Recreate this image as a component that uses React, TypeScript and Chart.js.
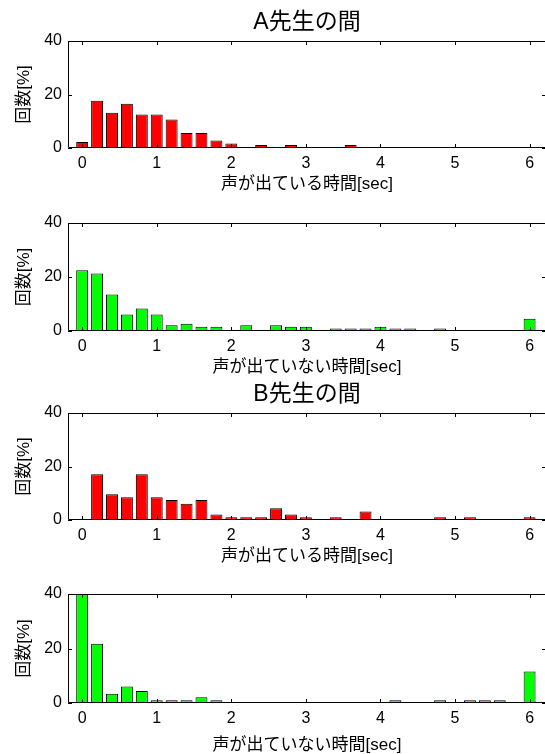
import React, { useEffect, useRef } from "react";
import { Chart, registerables } from "chart.js";

Chart.register(...registerables);

// bin centres [sec]
const bins = [
  0, 0.2, 0.4, 0.6, 0.8, 1.0, 1.2, 1.4, 1.6, 1.8, 2.0, 2.2, 2.4, 2.6, 2.8, 3.0,
  3.2, 3.4, 3.6, 3.8, 4.0, 4.2, 4.4, 4.6, 4.8, 5.0, 5.2, 5.4, 5.6, 5.8, 6.0,
];

// A: speaking durations [%]
const aSpeak = [
  2.2, 17.7, 13.2, 16.5, 12.5, 12.5, 10.7, 5.6, 5.6, 2.8, 1.7, 0, 1.1, 0, 1.1, 0,
  0, 0, 1.1, 0, 0, 0, 0, 0, 0, 0, 0, 0, 0, 0, 0,
];
// A: silent durations [%]
const aSilent = [
  22.5, 21.3, 13.5, 6.1, 8.3, 6.1, 2.1, 2.7, 1.6, 1.6, 0, 2.1, 0, 2.1, 1.6, 1.6,
  0, 0.9, 0.9, 0.9, 1.6, 0.9, 0.9, 0, 0.9, 0, 0, 0, 0, 0, 4.5,
];
// B: speaking durations [%]
const bSpeak = [
  0, 17.1, 9.6, 8.5, 17.1, 8.5, 7.5, 6.1, 7.5, 2.1, 1.0, 1.0, 1.0, 4.4, 2.1, 1.0,
  0, 1.0, 0, 3.2, 0, 0, 0, 0, 1.0, 0, 1.0, 0, 0, 0, 1.0,
];
// B: silent durations [%]
const bSilent = [
  40, 21.7, 3.4, 6.1, 4.4, 1.0, 1.0, 1.0, 2.1, 1.0, 0, 0, 0, 0, 0, 0,
  0, 0, 0, 0, 0, 1.0, 0, 0, 1.0, 0, 1.0, 1.0, 1.0, 0, 11.6,
];

const xTicks = [0, 1, 2, 3, 4, 5, 6];
const yTicks = [0, 20, 40];

const titleA = "A先生の間";
const titleB = "B先生の間";
const xLabelSpeak = "声が出ている時間[sec]";
const xLabelSilent = "声が出ていない時間[sec]";
const yLabel = "回数[%]";

const FONT = "'Liberation Sans', 'Noto Sans CJK JP', sans-serif";
const RED = "#ff0000";
const GREEN = "#00ff00";
const CANVAS_W = 546;

type PanelCfg = {
  top: number;
  height: number;
  padTop: number;
  title?: string;
  titlePad?: { top: number; bottom: number };
  xH: number;
  xTitlePad: number;
  xLabel: string;
  values: number[];
  color: string;
};

const panels: PanelCfg[] = [
  { top: 0, height: 200, padTop: 0, title: titleA, titlePad: { top: 11, bottom: 7 }, xH: 52, xTitlePad: 5, xLabel: xLabelSpeak, values: aSpeak, color: RED },
  { top: 200, height: 183, padTop: 23, xH: 52, xTitlePad: 5, xLabel: xLabelSilent, values: aSilent, color: GREEN },
  { top: 370, height: 202, padTop: 0, title: titleB, titlePad: { top: 13, bottom: 7 }, xH: 52, xTitlePad: 5, xLabel: xLabelSpeak, values: bSpeak, color: RED },
  { top: 572, height: 186, padTop: 22, xH: 55, xTitlePad: 2, xLabel: xLabelSilent, values: bSilent, color: GREEN },
];

const framePlugin = {
  id: "matlabFrame",
  afterDatasetsDraw(chart: any) {
    const { ctx, chartArea: a, scales } = chart;
    ctx.save();
    ctx.strokeStyle = "#000";
    ctx.lineWidth = 1;
    ctx.beginPath();
    ctx.rect(a.left + 0.5, a.top + 0.5, a.right - a.left - 1, a.bottom - a.top - 1);
    const L = 4;
    for (const v of xTicks) {
      const px = Math.round(scales.x.getPixelForValue(v)) + 0.5;
      ctx.moveTo(px, a.top);
      ctx.lineTo(px, a.top + L);
      ctx.moveTo(px, a.bottom);
      ctx.lineTo(px, a.bottom - L);
    }
    for (const v of yTicks) {
      const py = Math.round(scales.y.getPixelForValue(v)) + 0.5;
      ctx.moveTo(a.left, py);
      ctx.lineTo(a.left + L, py);
      ctx.moveTo(a.right, py);
      ctx.lineTo(a.right - L, py);
    }
    ctx.stroke();
    ctx.restore();
  },
};

function Panel({ cfg }: { cfg: PanelCfg }) {
  const ref = useRef<HTMLCanvasElement>(null);
  useEffect(() => {
    const chart = new Chart(ref.current as HTMLCanvasElement, {
      type: "bar",
      data: {
        datasets: [
          {
            data: bins.map((b, i) => ({ x: b, y: cfg.values[i] })),
            backgroundColor: cfg.color,
            borderColor: "#000",
            borderWidth: 1,
            borderSkipped: "start",
            barPercentage: 0.8,
            categoryPercentage: 1.0,
          },
        ],
      },
      options: {
        animation: false,
        responsive: false,
        devicePixelRatio: 1,
        layout: { padding: { top: cfg.padTop, left: 0, right: 0, bottom: 0 } },
        plugins: {
          legend: { display: false },
          tooltip: { enabled: false },
          title: {
            display: !!cfg.title,
            text: cfg.title || "",
            color: "#000",
            fullSize: false,
            font: { family: FONT, size: 23, weight: "normal", lineHeight: 1 },
            padding: cfg.titlePad || 0,
          },
        },
        scales: {
          x: {
            type: "linear",
            min: -0.19,
            max: 6.22,
            offset: false,
            grid: { display: false, drawTicks: false },
            border: { display: false },
            afterBuildTicks: (s: any) => {
              s.ticks = xTicks.map((v) => ({ value: v }));
            },
            afterFit: (s: any) => {
              s.height = cfg.xH;
            },
            ticks: {
              color: "#000",
              padding: 6,
              maxRotation: 0,
              autoSkip: false,
              font: { family: FONT, size: 16 },
              callback: (v: any) => String(v),
            },
            title: {
              display: true,
              text: cfg.xLabel,
              color: "#000",
              font: { family: FONT, size: 17 },
              padding: { top: 0, bottom: cfg.xTitlePad },
            },
          },
          y: {
            type: "linear",
            min: 0,
            max: 40,
            grid: { display: false, drawTicks: false },
            border: { display: false },
            afterBuildTicks: (s: any) => {
              s.ticks = yTicks.map((v) => ({ value: v }));
            },
            afterFit: (s: any) => {
              s.width = 68;
            },
            ticks: {
              color: "#000",
              padding: 6,
              font: { family: FONT, size: 16 },
              callback: (v: any) => String(v),
            },
            title: {
              display: true,
              text: yLabel,
              color: "#000",
              font: { family: FONT, size: 17 },
              padding: { top: 14, bottom: 0 },
            },
          },
        },
      },
      plugins: [framePlugin],
    } as any);
    return () => chart.destroy();
  }, []);
  return (
    <canvas
      ref={ref}
      width={CANVAS_W}
      height={cfg.height}
      style={{ position: "absolute", left: 0, top: cfg.top, width: CANVAS_W, height: cfg.height, display: "block" }}
    />
  );
}

export default function App() {
  return (
    <div
      style={{
        position: "absolute",
        left: 0,
        top: 0,
        width: 545,
        height: 754,
        overflow: "hidden",
        background: "#fff",
      }}
    >
      {panels.map((p, i) => (
        <Panel key={i} cfg={p} />
      ))}
    </div>
  );
}
